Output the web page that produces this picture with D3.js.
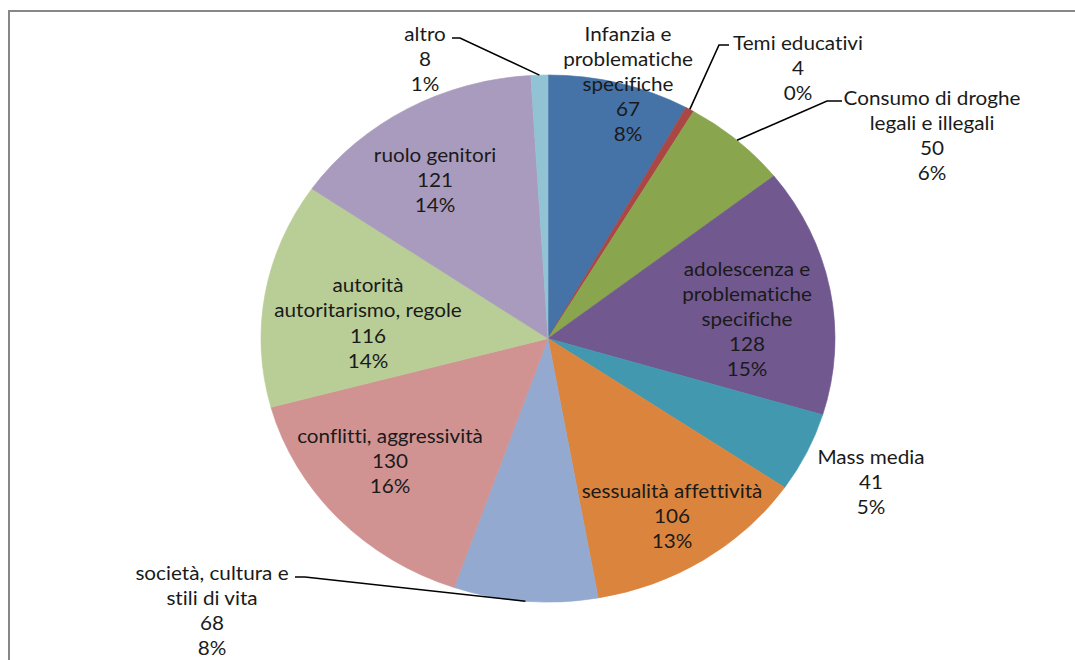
<!DOCTYPE html>
<html>
<head>
<meta charset="utf-8">
<script src="https://cdn.jsdelivr.net/npm/d3@7/dist/d3.min.js"></script>
<style>
  html, body { margin: 0; padding: 0; background: #fff; }
  svg { display: block; }
  text { font-variant-ligatures: none; font-feature-settings: "liga" 0; }
</style>
</head>
<body>
<svg id="chart" width="1075" height="660"></svg>
<script>
// ---- data ----
const categories = [
  ["Infanzia e", "problematiche", "specifiche"],
  ["Temi educativi"],
  ["Consumo di droghe", "legali e illegali"],
  ["adolescenza e", "problematiche", "specifiche"],
  ["Mass media"],
  ["sessualità affettività"],
  ["società, cultura e", "stili di vita"],
  ["conflitti, aggressività"],
  ["autorità", "autoritarismo, regole"],
  ["ruolo genitori"],
  ["altro"]
];
const values = [67, 4, 50, 128, 41, 106, 68, 130, 116, 121, 8];
const percentLabels = ["8%", "0%", "6%", "15%", "5%", "13%", "8%", "16%", "14%", "14%", "1%"];

// ---- style / layout ----
const colors = ["#4572A7", "#AA4643", "#89A54E", "#71588F", "#4198AF", "#DB843D",
                "#93A9CF", "#D19392", "#B9CD96", "#A99BBD", "#91C3D5"];
const cx = 548, cy = 338.5, ry = 263.5, rx = 287;
const sx = rx / ry;
const lineH = 25.2;
// centre of first text line of each label
const labelAnchors = [
  [628, 33], [798, 42], [932, 97], [747, 268], [871, 456], [672, 490],
  [212, 572], [390, 435], [368, 284.5], [435, 154], [425, 33]
];
// leader line elbows (from label side), for slices whose label is outside
const leaderElbows = {
  1: [[729, 45], [719, 45]],
  2: [[842, 101], [827, 101]],
  6: [[295, 577], [305, 577]],
  10: [[452, 38], [460, 38]]
};

const svg = d3.select("#chart");

// frame
svg.append("rect")
  .attr("x", 9).attr("y", 11)
  .attr("width", 1200).attr("height", 800)
  .attr("fill", "none")
  .attr("stroke", "#878787")
  .attr("stroke-width", 2);

const pie = d3.pie().sort(null).value(d => d)(values);
const arc = d3.arc().innerRadius(0).outerRadius(ry);

const g = svg.append("g")
  .attr("transform", `translate(${cx},${cy}) scale(${sx},1)`);

g.selectAll("path.slice")
  .data(pie)
  .join("path")
  .attr("class", "slice")
  .attr("d", arc)
  .attr("fill", (d, i) => colors[i])
  .attr("stroke", (d, i) => colors[i])
  .attr("stroke-width", 0.6);

// leader lines
Object.keys(leaderElbows).forEach(k => {
  const i = +k;
  const a = (pie[i].startAngle + pie[i].endAngle) / 2;
  const px = cx + Math.sin(a) * ry * sx;
  const py = cy - Math.cos(a) * ry;
  const pts = leaderElbows[k].concat([[px, py]]);
  svg.append("path")
    .attr("d", d3.line()(pts))
    .attr("fill", "none")
    .attr("stroke", "#000")
    .attr("stroke-width", 1.6);
});

// labels
const labels = svg.append("g")
  .attr("font-family", "Lato, 'Open Sans', sans-serif")
  .attr("font-size", 19)
  .attr("fill", "#1a1a1a");

categories.forEach((lines, i) => {
  const all = lines.concat([String(values[i]), percentLabels[i]]);
  const [x, y] = labelAnchors[i];
  const t = labels.append("text")
    .attr("transform", `translate(${x},${y}) scale(${sx},1)`)
    .attr("text-anchor", "middle");
  all.forEach((s, j) => {
    t.append("tspan")
      .attr("x", 0)
      .attr("y", j * lineH)
      .attr("dominant-baseline", "central")
      .text(s);
  });
});
</script>
</body>
</html>
